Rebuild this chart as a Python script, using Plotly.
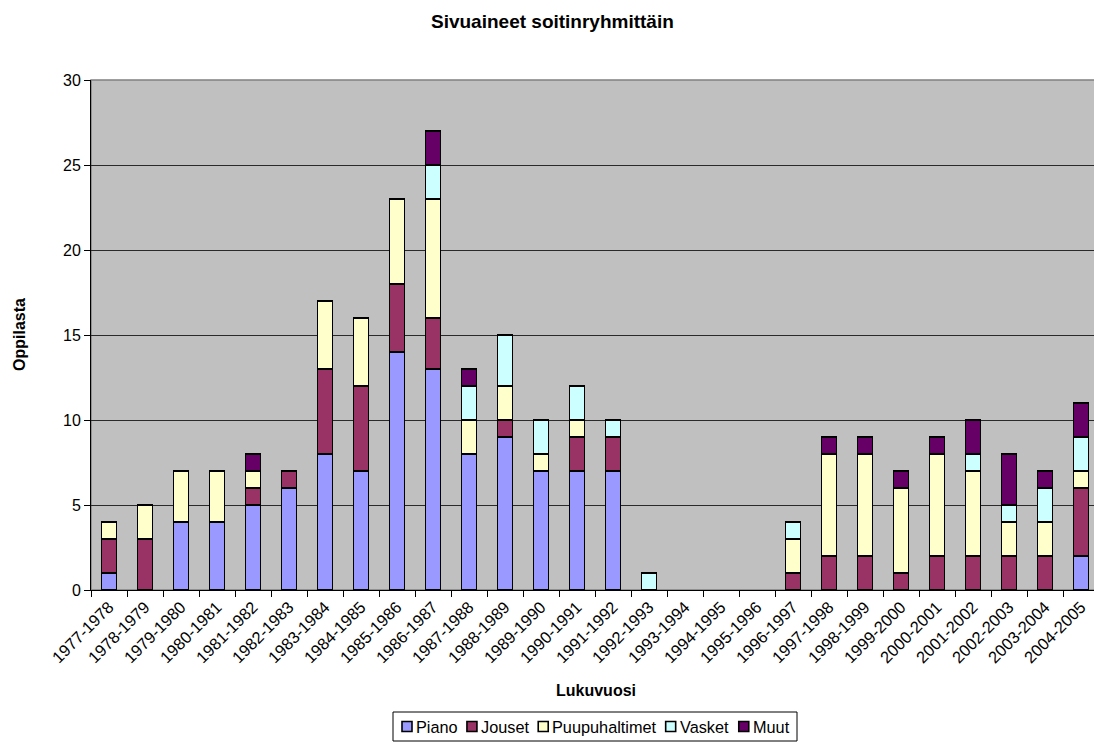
import plotly.graph_objects as go

years = ["1977-1978", "1978-1979", "1979-1980", "1980-1981", "1981-1982", "1982-1983",
         "1983-1984", "1984-1985", "1985-1986", "1986-1987", "1987-1988", "1988-1989",
         "1989-1990", "1990-1991", "1991-1992", "1992-1993", "1993-1994", "1994-1995",
         "1995-1996", "1996-1997", "1997-1998", "1998-1999", "1999-2000", "2000-2001",
         "2001-2002", "2002-2003", "2003-2004", "2004-2005"]

piano = [1, 0, 4, 4, 5, 6, 8, 7, 14, 13, 8, 9, 7, 7, 7, 0, 0, 0, 0, 0, 0, 0, 0, 0, 0, 0, 0, 2]
jouset = [2, 3, 0, 0, 1, 1, 5, 5, 4, 3, 0, 1, 0, 2, 2, 0, 0, 0, 0, 1, 2, 2, 1, 2, 2, 2, 2, 4]
puupuhaltimet = [1, 2, 3, 3, 1, 0, 4, 4, 5, 7, 2, 2, 1, 1, 0, 0, 0, 0, 0, 2, 6, 6, 5, 6, 5, 2, 2, 1]
vasket = [0, 0, 0, 0, 0, 0, 0, 0, 0, 2, 2, 3, 2, 2, 1, 1, 0, 0, 0, 1, 0, 0, 0, 0, 1, 1, 2, 2]
muut = [0, 0, 0, 0, 1, 0, 0, 0, 0, 2, 1, 0, 0, 0, 0, 0, 0, 0, 0, 0, 1, 1, 1, 1, 2, 3, 1, 2]

series_names = ["Piano", "Jouset", "Puupuhaltimet", "Vasket", "Muut"]
series_values = [piano, jouset, puupuhaltimet, vasket, muut]
series_colors = ["#9999FF", "#993366", "#FFFFCC", "#CCFFFF", "#660066"]

# ---- geometry (figure pixels; page has an 8px body margin) ----
W, H = 1094, 734
ML, MR, MT, MB = 83, 3, 72, 152
PW, PH = W - ML - MR, H - MT - MB
OFF = 8


def px(xpage):
    return (xpage - OFF - ML) / PW


def py(ypage):
    return (H - MB - (ypage - OFF)) / PH


FONT = "Liberation Sans, Arial, sans-serif"

fig = go.Figure()
for name, vals, col in zip(series_names, series_values, series_colors):
    fig.add_trace(go.Bar(
        x=years, y=[v if v else None for v in vals], name=name,
        marker=dict(color=col, line=dict(color="#000000", width=1.6)),
        showlegend=False,
    ))

fig.update_layout(
    barmode="stack",
    bargap=0.58,
    width=W, height=H,
    margin=dict(l=ML, r=MR, t=MT, b=MB),
    paper_bgcolor="white",
    plot_bgcolor="#C0C0C0",
    font=dict(family=FONT, size=16, color="#000000"),
    showlegend=False,
    xaxis=dict(
        type="category", tickangle=-45, ticks="outside", tickson="boundaries",
        ticklen=6, tickcolor="#000000", showline=True, linecolor="#000000",
        linewidth=1, tickfont=dict(size=16.5), ticklabelstandoff=0,
    ),
    yaxis=dict(
        range=[0, 30], dtick=5, ticks="outside", ticklen=6, tickcolor="#000000",
        showline=True, linecolor="#000000", linewidth=1,
        showgrid=True, gridcolor="#2a2a2a", gridwidth=1,
        tickfont=dict(size=16), zeroline=False,
    ),
)

annotations = [
    dict(text="<b>Sivuaineet soitinryhmittäin</b>", x=px(552), y=py(22),
         xanchor="center", yanchor="middle", font=dict(size=19)),
    dict(text="<b>Oppilasta</b>", x=px(19), y=py(335), textangle=-90,
         xanchor="center", yanchor="middle", font=dict(size=16)),
    dict(text="<b>Lukuvuosi</b>", x=px(596), y=py(690),
         xanchor="center", yanchor="middle", font=dict(size=16)),
]
shapes = [
    dict(type="rect", xref="paper", yref="paper", x0=0, y0=0, x1=1, y1=1,
         line=dict(color="#808080", width=1.5), layer="below"),
]

# ---- manual legend (Excel style) ----
AW = {"P": .667, "i": .222, "a": .556, "n": .556, "o": .556, "J": .5, "u": .556,
      "s": .5, "e": .556, "t": .278, "p": .556, "h": .556, "l": .222, "m": .833,
      "V": .667, "k": .5, "M": .833}
LF = 16.3
box_l, box_r, box_t, box_b = 393, 797, 712, 741
yc = (box_t + box_b) / 2
sq = 10
gap_sq = 3
text_w = [sum(AW[c] for c in n) * LF for n in series_names]
inner = box_r - box_l - 18
G = (inner - sum(text_w) - len(series_names) * (sq + gap_sq)) / (len(series_names) - 1)
x = box_l + 9
shapes.append(dict(type="rect", xref="paper", yref="paper",
                   x0=px(box_l), x1=px(box_r), y0=py(box_b), y1=py(box_t),
                   line=dict(color="#000000", width=1), fillcolor="white"))
for name, col, tw in zip(series_names, series_colors, text_w):
    shapes.append(dict(type="rect", xref="paper", yref="paper",
                       x0=px(x), x1=px(x + sq), y0=py(yc + sq / 2), y1=py(yc - sq / 2),
                       line=dict(color="#000000", width=1.6), fillcolor=col))
    annotations.append(dict(text=name, x=px(x + sq + gap_sq), y=py(yc + 0.5),
                            xanchor="left", yanchor="middle", font=dict(size=LF),
                            xshift=-1))
    x += sq + gap_sq + tw + G

for a in annotations:
    a.update(xref="paper", yref="paper", showarrow=False)
fig.update_layout(annotations=annotations, shapes=shapes)

fig.write_html("out.html")
